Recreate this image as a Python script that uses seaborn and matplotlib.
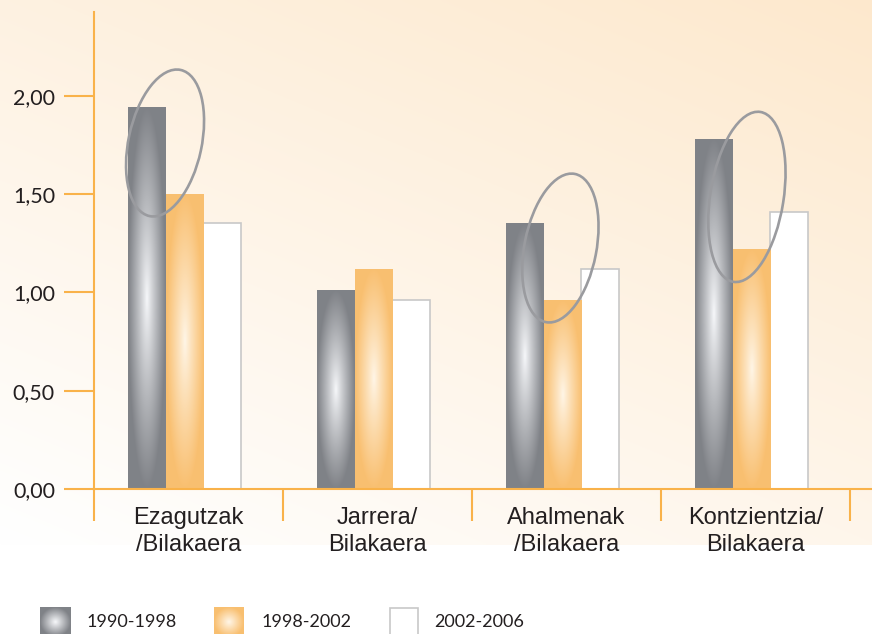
import numpy as np
import pandas as pd
import matplotlib
matplotlib.use("Agg")
import matplotlib.pyplot as plt
import matplotlib.transforms as mtransforms
from matplotlib.patches import Ellipse, Rectangle
import seaborn as sns

# ---------------- data ----------------
categories = ["Ezagutzak\n/Bilakaera", "Jarrera/\nBilakaera",
              "Ahalmenak\n/Bilakaera", "Kontzientzia/\nBilakaera"]
periods = ["1990-1998", "1998-2002", "2002-2006"]
v_1990_1998 = [1.94, 1.01, 1.35, 1.78]
v_1998_2002 = [1.50, 1.12, 0.96, 1.22]
v_2002_2006 = [1.35, 0.96, 1.12, 1.41]
yticks = [0.0, 0.5, 1.0, 1.5, 2.0]
ytick_labels = ["0,00", "0,50", "1,00", "1,50", "2,00"]

# highlight ellipses: (centre x, centre y in data units, semi-major px, semi-minor px, tilt deg)
ell_cx = [-0.103, 1.989, 2.976]
ell_cy = [1.759, 1.225, 1.485]
ell_a = [74.7, 75.5, 86.0]
ell_b = [36.6, 36.0, 36.7]
ell_tilt = [12, 11, 9]

df = pd.DataFrame({
    "Kategoria": categories * 3,
    "Aldia": [periods[0]] * 4 + [periods[1]] * 4 + [periods[2]] * 4,
    "Balioa": v_1990_1998 + v_1998_2002 + v_2002_2006,
})

ORANGE = "#f9b24a"
DARK = "#231f20"
GRAY_EDGE = np.array([0.50, 0.51, 0.53])
GRAY_CTR = np.array([0.97, 0.975, 0.985])
OR_EDGE = np.array([0.976, 0.75, 0.44])
OR_CTR = np.array([1.0, 0.965, 0.91])

sns.set_style("white")
plt.rcParams["font.family"] = ["Lato", "DejaVu Sans"]

W_PX, H_PX = 872, 634
fig = plt.figure(figsize=(W_PX / 100, H_PX / 100), dpi=100, facecolor="white")

# background gradient
bg = fig.add_axes([0, (H_PX - 545) / H_PX, 1, 545 / H_PX])
bg.axis("off")
yy, xx = np.mgrid[0:1:220j, 0:1:320j]
t = np.clip(0.6 * (1 - yy) + 0.4 * xx, 0, 1)[..., None]
peach = np.array([0.993, 0.912, 0.805])
bimg = (1 - t) * np.array([1.0, 1.0, 1.0]) + t * peach
bg.imshow(bimg, extent=[0, 1, 0, 1], aspect="auto", origin="upper", interpolation="bilinear")
bg.set_xlim(0, 1)
bg.set_ylim(0, 1)

ax = fig.add_axes([94 / W_PX, 145 / H_PX, 778 / W_PX, 477 / H_PX])
ax.patch.set_alpha(0)

sns.barplot(data=df, x="Kategoria", y="Balioa", hue="Aldia",
            palette=[tuple(GRAY_EDGE), tuple(OR_EDGE), (1, 1, 1)],
            width=0.6, saturation=1, legend=False, ax=ax, linewidth=0)


def radial(center, edge, nx=80, ny=260, power=0.9):
    X = np.linspace(-1, 1, nx)
    Y = np.linspace(-1, 1, ny)
    XX, YY = np.meshgrid(X, Y)
    r = np.clip(np.sqrt(XX ** 2 + YY ** 2), 0, 1) ** power
    r = r[..., None]
    return center * (1 - r) + edge * r


g_img = radial(GRAY_CTR, GRAY_EDGE)
o_img = radial(OR_CTR, OR_EDGE)

for ci, cont in enumerate(ax.containers):
    for bar in cont:
        if ci == 2:
            bar.set_edgecolor("#c8c8c8")
            bar.set_linewidth(1.2)
            continue
        x0, w, h = bar.get_x(), bar.get_width(), bar.get_height()
        im = ax.imshow(g_img if ci == 0 else o_img, extent=[x0, x0 + w, 0, h],
                       aspect="auto", zorder=bar.get_zorder() + 0.01,
                       interpolation="bilinear")
        im.set_clip_path(bar)

ax.set_xlim(-0.479, 3.638)
ax.set_ylim(0, 2.425)
ax.set_xlabel("")
ax.set_ylabel("")

for s in ["top", "right"]:
    ax.spines[s].set_visible(False)
for s in ["left", "bottom"]:
    ax.spines[s].set_color(ORANGE)
    ax.spines[s].set_linewidth(1.5)

ax.set_yticks(yticks, ytick_labels)
ax.tick_params(axis="y", left=True, length=21.6, width=1.5, color=ORANGE, pad=6.5,
               labelsize=15.5, labelcolor=DARK)

ax.set_xticks(np.arange(4) + 0.021, categories)
ax.set_xticks(np.arange(5) - 0.479, minor=True)
ax.tick_params(axis="x", which="major", bottom=True, length=0, pad=13,
               labelsize=17, labelcolor=DARK)
ax.tick_params(axis="x", which="minor", bottom=True, length=23, width=1.5, color=ORANGE)
for lbl in ax.get_xticklabels():
    lbl.set_fontfamily(["Liberation Sans Narrow", "Liberation Sans", "DejaVu Sans"])
    lbl.set_linespacing(1.32)

# ellipses
for cx, cy, a, b, tl in zip(ell_cx, ell_cy, ell_a, ell_b, ell_tilt):
    tr = fig.dpi_scale_trans + mtransforms.ScaledTranslation(cx, cy, ax.transData)
    e = Ellipse((0, 0), width=2 * b / 100, height=2 * a / 100, angle=-tl,
                transform=tr, fill=False, edgecolor="#9a9b9f", linewidth=1.9,
                zorder=6, clip_on=False)
    ax.add_artist(e)

# legend (manual)
sw_x = [40, 214, 389]
lb_x = [87, 262, 434]
sw_w = 30
sw_top = 607
for i, name in enumerate(periods):
    lax = fig.add_axes([sw_x[i] / W_PX, 0, sw_w / W_PX, (H_PX - sw_top) / H_PX])
    lax.set_xlim(0, 1)
    lax.set_ylim(0, 1)
    lax.axis("off")
    if i < 2:
        sq = radial(GRAY_CTR if i == 0 else OR_CTR, GRAY_EDGE if i == 0 else OR_EDGE,
                    nx=60, ny=60, power=1.0)
        lax.imshow(sq, extent=[0, 1, -0.1, 1], aspect="auto", interpolation="bilinear")
        lax.set_xlim(0, 1)
        lax.set_ylim(0, 1)
    else:
        lax.add_patch(Rectangle((0.02, -0.2), 0.96, 1.17, facecolor="white",
                                edgecolor="#c8c8c8", linewidth=1.2))
    fig.text(lb_x[i] / W_PX, 1 - 622 / H_PX, name, va="center", ha="left",
             fontsize=13, color=DARK)

fig.savefig("out.png", dpi=100, facecolor="white")
